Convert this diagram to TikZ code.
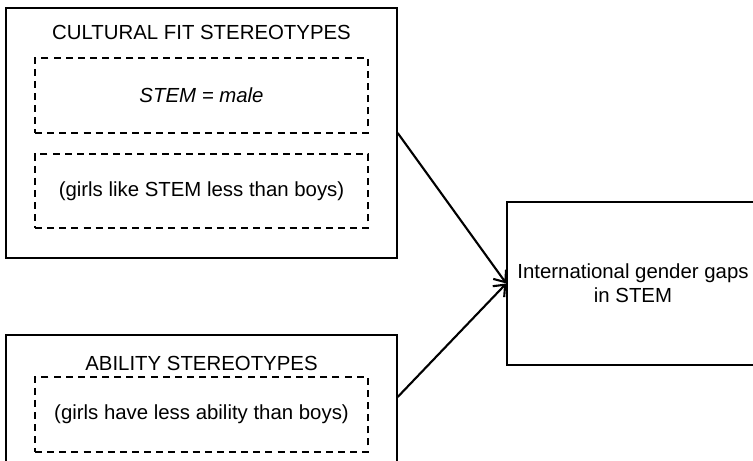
\documentclass[tikz,border=0pt]{standalone}
\usepackage{fontspec}
\setmainfont{Liberation Sans}
\usetikzlibrary{arrows.meta}

\tikzset{
    outerbox/.style={draw, line width=0.8pt, inner sep=0pt},
    innerbox/.style={draw, dash pattern=on 4pt off 2.9pt, line width=0.75pt, minimum width=6.66cm, minimum height=1.5cm, inner sep=0pt},
    heading/.style={inner sep=0pt},
    link/.style={line width=1.2pt, -{Straight Barb[length=5.5pt,width=9pt,line width=1.2pt]}}
}

\begin{document}
\begin{tikzpicture}[font=\fontsize{11.6}{13.7}\selectfont]
        \useasboundingbox (0,0) rectangle (15.06,9.22);
        \clip (0,0) rectangle (15.06,9.22);
        % cultural fit block
        \node[outerbox, minimum width=7.82cm, minimum height=5cm] (cult) at (4.03,6.56) {};
        \node[heading] (culttitle) at (4.03,8.58) {CULTURAL FIT STEREOTYPES};
        \node[innerbox] (male) at (4.03,7.31) {\itshape STEM = male};
        \node[innerbox, minimum height=1.48cm] (like) at (4.03,5.40) {(girls like STEM less than boys)};
        % ability block
        \node[outerbox, minimum width=7.82cm, minimum height=2.7cm] (abil) at (4.03,1.17) {};
        \node[heading] (abiltitle) at (4.03,1.96) {ABILITY STEREOTYPES};
        \node[innerbox] (less) at (4.03,0.93) {(girls have less ability than boys)};
        % outcome
        \node[outerbox, minimum width=5.04cm, minimum height=3.26cm, align=center] (gaps) at (12.66,3.55) {International gender gaps\\in STEM};
        \draw[link] (cult.east) -- (gaps.west);
        \draw[link] ([yshift=0.11cm]abil.east) -- (gaps.west);
\end{tikzpicture}
\end{document}
